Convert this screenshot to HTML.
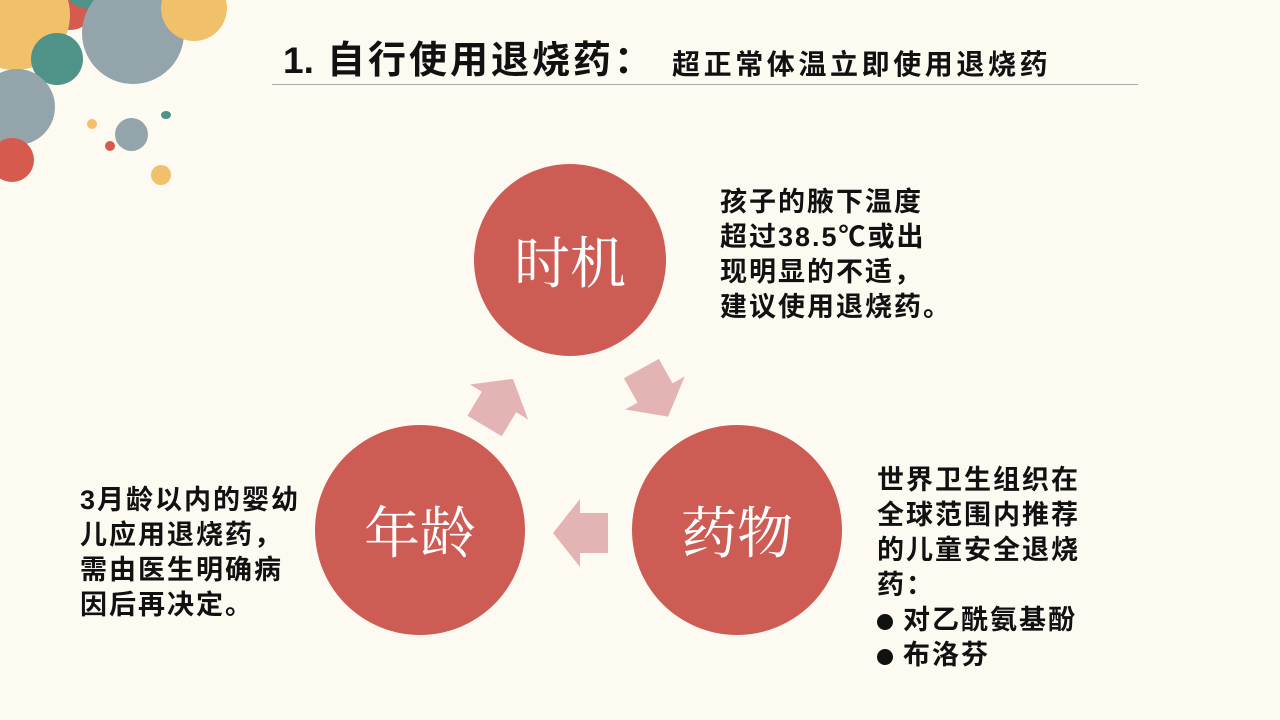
<!DOCTYPE html>
<html><head><meta charset="utf-8"><style>
body{margin:0;width:1280px;height:720px;background:#fdfaf2;position:relative;overflow:hidden;font-family:"Liberation Sans","Noto Sans CJK SC",sans-serif}
.c{position:absolute;border-radius:50%}
.t{position:absolute;font-size:27px;font-weight:bold;line-height:35px;color:#111;letter-spacing:2px;white-space:nowrap}
.b{display:inline-block;width:16px;height:16px;border-radius:50%;background:#111;margin-right:10px;vertical-align:-1px}
.big{position:absolute;border-radius:50%;background:#cd5c55;color:#fff;font-family:"Noto Serif CJK SC",serif;font-size:56px;display:flex;align-items:center;justify-content:center}
</style></head><body>
<div class="c" style="left:45px;top:-20px;width:50px;height:50px;background:#d65a4e"></div>
<div class="c" style="left:-40px;top:-40px;width:110px;height:110px;background:#f0c06a"></div>
<div class="c" style="left:65px;top:-30px;width:60px;height:40px;background:#4f9287"></div>
<div class="c" style="left:82px;top:-18px;width:102px;height:102px;background:#93a4ab"></div>
<div class="c" style="left:161px;top:-25px;width:66px;height:66px;background:#f0c06a"></div>
<div class="c" style="left:31px;top:33px;width:52px;height:52px;background:#4f9287"></div>
<div class="c" style="left:-21px;top:69px;width:76px;height:76px;background:#93a4ab"></div>
<div class="c" style="left:-10px;top:138px;width:44px;height:44px;background:#d65a4e"></div>
<div class="c" style="left:87px;top:119px;width:10px;height:10px;background:#f0c06a"></div>
<div class="c" style="left:105px;top:141px;width:10px;height:10px;background:#d65a4e"></div>
<div class="c" style="left:115px;top:118px;width:33px;height:33px;background:#93a4ab"></div>
<div class="c" style="left:161px;top:111px;width:10px;height:8px;background:#4f9287"></div>
<div class="c" style="left:151px;top:165px;width:20px;height:20px;background:#f0c06a"></div>

<div style="position:absolute;left:283px;top:38px;white-space:nowrap;color:#111;font-size:37px;line-height:46px;font-weight:bold">1.</div>
<div style="position:absolute;left:327px;top:38px;white-space:nowrap;color:#111;font-size:38px;line-height:46px;font-weight:bold;letter-spacing:3px">自行使用退烧药：</div>
<div style="position:absolute;left:672px;top:48px;white-space:nowrap;color:#111;font-size:28px;line-height:34px;font-weight:bold;letter-spacing:3.6px">超正常体温立即使用退烧药</div>
<div style="position:absolute;left:272px;top:84px;width:866px;height:1px;background:#aaa"></div>

<div class="big" style="left:474px;top:164px;width:192px;height:192px">时机</div>
<div class="big" style="left:315px;top:425px;width:210px;height:210px">年龄</div>
<div class="big" style="left:632px;top:425px;width:210px;height:210px">药物</div>

<svg width="1280" height="720" style="position:absolute;left:0;top:0">
<defs><polygon id="a" points="-27,0 0,-34 0,-20 28,-20 28,20 0,20 0,34" fill="#e3b4b3"/></defs>
<use href="#a" transform="translate(580,533)"/>
<use href="#a" transform="translate(499,402) rotate(121)"/>
<use href="#a" transform="translate(655,393) rotate(-119)"/>
</svg>

<div class="t" style="left:720px;top:185px">孩子的腋下温度<br>超过38.5℃或出<br>现明显的不适，<br>建议使用退烧药。</div>
<div class="t" style="left:80px;top:483px">3月龄以内的婴幼<br>儿应用退烧药，<br>需由医生明确病<br>因后再决定。</div>
<div class="t" style="left:877px;top:463px">世界卫生组织在<br>全球范围内推荐<br>的儿童安全退烧<br>药：<br><span class="b"></span>对乙酰氨基酚<br><span class="b"></span>布洛芬</div>
</body></html>
